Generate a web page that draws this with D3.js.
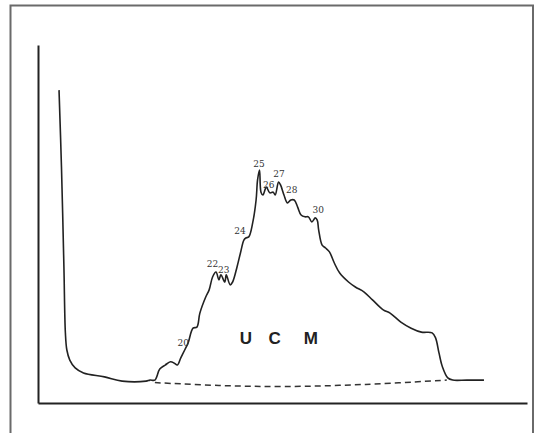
<!DOCTYPE html>
<html>
<head>
<meta charset="utf-8">
<script src="https://cdn.jsdelivr.net/npm/d3@7"></script>
<style>
  body { margin: 0; background: #fff; }
  svg { display: block; }
</style>
</head>
<body>
<script>
// size of the picture and the plot area inside the frame

var W = 543, H = 433
var margin = { top: 45, right: 16, bottom: 30, left: 38 }

// trace of the chromatogram: retention (0-100) and detector response (0-100)

var retention = [4.3, 4.8, 5.3, 5.6, 5.9, 6.5, 7.6, 9.3, 13.6, 17.2, 22.1, 22.9,
  23.9, 24.9, 26.0, 27.1, 27.8, 28.5, 29.2, 30.0, 30.7, 31.7, 32.5, 33.1,
  34.3, 35.0, 35.7, 36.4, 37.0, 37.4, 38.2, 38.5, 39.3, 39.8, 40.7, 41.4,
  42.1, 42.5, 43.1, 43.9, 44.6, 44.9, 45.3, 45.6, 46.0, 46.7, 47.4, 48.1,
  48.5, 49.2, 49.6, 50.3, 51.0, 51.7, 52.4, 53.1, 53.8, 54.6, 55.3, 56.0,
  56.7, 57.1, 57.4, 58.1, 58.8, 59.6, 60.6, 61.7, 63.5, 64.9, 66.7, 68.4,
  70.6, 72.0, 74.2, 76.3, 78.4, 80.6, 81.3, 82.0, 82.7, 83.8, 84.8, 87.7, 91.2]

var response = [87.4, 65.9, 38.0, 19.6, 14.8, 12.0, 9.8, 8.4, 7.3, 6.1, 6.1, 6.4,
  6.4, 9.5, 10.6, 11.5, 11.2, 10.6, 12.6, 14.8, 16.8, 20.9, 21.2, 25.1,
  29.6, 31.6, 35.2, 36.6, 34.4, 35.8, 33.8, 35.8, 33.0, 33.8, 38.0, 41.9,
  45.5, 46.1, 46.4, 50.3, 56.7, 62.3, 65.1, 58.9, 58.1, 60.3, 58.7, 58.9,
  58.1, 61.7, 60.9, 58.1, 55.9, 56.7, 56.7, 54.7, 52.5, 52.0, 52.0, 50.6,
  51.7, 51.1, 48.3, 44.1, 43.3, 42.2, 39.1, 36.3, 33.8, 32.4, 31.0, 28.8,
  26.0, 25.1, 22.6, 20.9, 19.8, 19.6, 18.2, 14.0, 10.1, 7.0, 6.4, 6.4, 6.4]

// dashed baseline under the hump

var baseRetention = [23.9, 37.0, 50.5, 67.0, 83.6]
var baseResponse = [5.7, 4.9, 4.6, 5.2, 6.4]

// carbon number labels over the peaks

var peakNames = ["20", "22", "23", "24", "25", "26", "27", "28", "30"]
var peakRetention = [29.7, 35.7, 38.0, 41.3, 45.2, 47.2, 49.3, 51.9, 57.3]
var peakResponse = [15.9, 38.0, 36.3, 47.2, 65.9, 60.1, 63.1, 58.7, 53.1]

// the UCM letters

var ucmLetters = ["U", "C", "M"]
var ucmRetention = [42.5, 48.4, 55.8]
var ucmResponse = [16.5, 16.5, 16.5]

var svg = d3.select("body").append("svg")
  .attr("width", W)
  .attr("height", H)

// gray frame round the figure, open at the bottom

svg.append("rect")
  .attr("x", 10.5)
  .attr("y", 5.5)
  .attr("width", 522.5)
  .attr("height", 440)
  .attr("fill", "none")
  .attr("stroke", "#6a6a6a")
  .attr("stroke-width", 2)

var x = d3.scaleLinear()
  .domain([0, 100])
  .range([margin.left, W - margin.right])

var y = d3.scaleLinear()
  .domain([0, 100])
  .range([H - margin.bottom, margin.top])

// axes without ticks, just the two lines

var xAxis = d3.axisBottom(x).tickValues([]).tickSizeOuter(0)
var yAxis = d3.axisLeft(y).tickValues([]).tickSizeOuter(0)

svg.append("g")
  .attr("class", "x axis")
  .attr("transform", "translate(0," + y(0) + ")")
  .call(xAxis)

svg.append("g")
  .attr("class", "y axis")
  .attr("transform", "translate(" + x(0) + ",0)")
  .call(yAxis)

svg.selectAll(".axis path")
  .attr("stroke", "#222")
  .attr("stroke-width", 2)

// the trace itself

var trace = retention.map(function(t, i) { return [t, response[i]] })
var base = baseRetention.map(function(t, i) { return [t, baseResponse[i]] })

var line = d3.line()
  .x(function(d) { return x(d[0]) })
  .y(function(d) { return y(d[1]) })
  .curve(d3.curveCatmullRom.alpha(0.5))

svg.append("path")
  .datum(base)
  .attr("d", line)
  .attr("fill", "none")
  .attr("stroke", "#333")
  .attr("stroke-width", 1.5)
  .attr("stroke-dasharray", "6,4")

svg.append("path")
  .datum(trace)
  .attr("d", line)
  .attr("fill", "none")
  .attr("stroke", "#222")
  .attr("stroke-width", 1.6)
  .attr("stroke-linejoin", "round")

// peak labels

svg.selectAll(".peak")
  .data(peakNames)
  .enter().append("text")
  .attr("class", "peak")
  .attr("x", function(d, i) { return x(peakRetention[i]) })
  .attr("y", function(d, i) { return y(peakResponse[i]) })
  .attr("text-anchor", "middle")
  .attr("font-family", "DejaVu Serif, serif")
  .attr("font-size", 9)
  .attr("fill", "#333")
  .text(function(d) { return d })

// UCM

svg.selectAll(".ucm")
  .data(ucmLetters)
  .enter().append("text")
  .attr("class", "ucm")
  .attr("x", function(d, i) { return x(ucmRetention[i]) })
  .attr("y", function(d, i) { return y(ucmResponse[i]) })
  .attr("text-anchor", "middle")
  .attr("font-family", "Liberation Sans, Arial, sans-serif")
  .attr("font-weight", "bold")
  .attr("font-size", 17)
  .attr("fill", "#222")
  .text(function(d) { return d })
</script>
</body>
</html>
